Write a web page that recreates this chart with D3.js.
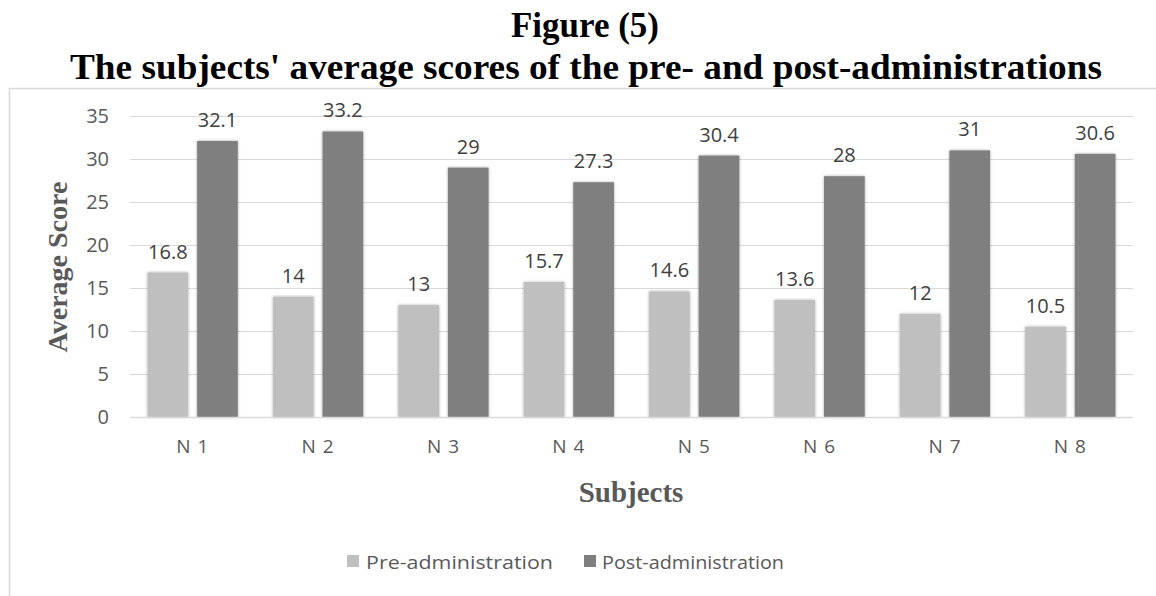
<!DOCTYPE html>
<html><head><meta charset="utf-8">
<script src="https://cdn.jsdelivr.net/npm/d3@7"></script>
<style>body{margin:0;background:#fff}</style>
</head><body>
<script>
const categories = ["N 1","N 2","N 3","N 4","N 5","N 6","N 7","N 8"];
const seriesNames = ["Pre-administration","Post-administration"];
const preValues = [16.8,14,13,15.7,14.6,13.6,12,10.5];
const postValues = [32.1,33.2,29,27.3,30.4,28,31,30.6];
const yTicks = [0,5,10,15,20,25,30,35];
const colors = ["#bfbfbf","#7f7f7f"];

const W=1156,H=596;
const svg=d3.select("body").append("svg").attr("width",W).attr("height",H);
const defs=svg.append("defs");
const f=defs.append("filter").attr("id","sh").attr("x","-20%").attr("y","-5%").attr("width","140%").attr("height","110%");
f.append("feGaussianBlur").attr("in","SourceAlpha").attr("stdDeviation",1.6).attr("result","b");
f.append("feComponentTransfer").attr("in","b").attr("result","o2").append("feFuncA").attr("type","linear").attr("slope",0.35);
const m=f.append("feMerge");m.append("feMergeNode").attr("in","o2");m.append("feMergeNode").attr("in","SourceGraphic");

// titles
svg.append("text").attr("x",585).attr("y",37).attr("text-anchor","middle")
 .attr("font-family","Liberation Serif").attr("font-weight","bold").attr("font-size",35).attr("fill","#000")
 .text("Figure (5)");
svg.append("text").attr("x",586).attr("y",79).attr("text-anchor","middle")
 .attr("font-family","Liberation Serif").attr("font-weight","bold").attr("font-size",36).attr("fill","#000")
 .attr("textLength",1032).attr("lengthAdjust","spacingAndGlyphs")
 .text("The subjects' average scores of the pre- and post-administrations");

// frame
svg.append("rect").attr("x",9.5).attr("y",88.5).attr("width",1160).attr("height",520).attr("fill","none").attr("stroke","#d9d9d9").attr("stroke-width",1.5);

const y=d3.scaleLinear().domain([0,35]).range([417,116]);
const x0=d3.scaleBand().domain(categories).range([130,1133]).paddingInner(0.28).paddingOuter(0.14);
const x1=d3.scaleBand().domain(seriesNames).range([0,x0.bandwidth()]).paddingInner(0.18);

// grid
svg.append("g").selectAll("line").data(yTicks.filter(d=>d>0)).join("line")
 .attr("x1",130).attr("x2",1133).attr("y1",d=>y(d)+0.5).attr("y2",d=>y(d)+0.5).attr("stroke","#d9d9d9").attr("stroke-width",1);

// y axis labels
const yAxis=d3.axisLeft(y).tickValues(yTicks).tickSize(0).tickPadding(21);
const ga=svg.append("g").attr("transform","translate(130,0)").call(yAxis);
ga.select(".domain").remove();
ga.selectAll("text").attr("font-family","Open Sans").attr("font-size",20).attr("fill","#595959");

// bars
const data=categories.map((c,i)=>({c,vals:[preValues[i],postValues[i]]}));
const g=svg.append("g").selectAll("g").data(data).join("g").attr("transform",d=>`translate(${x0(d.c)},0)`);
g.selectAll("rect").data(d=>d.vals.map((v,j)=>({v,s:seriesNames[j],j}))).join("rect")
 .attr("x",d=>x1(d.s)).attr("width",x1.bandwidth()).attr("y",d=>y(d.v)).attr("height",d=>y(0)-y(d.v))
 .attr("fill",d=>colors[d.j]).attr("filter","url(#sh)");
g.selectAll("text").data(d=>d.vals.map((v,j)=>({v,s:seriesNames[j]}))).join("text")
 .attr("x",d=>x1(d.s)+x1.bandwidth()/2).attr("y",d=>y(d.v)-14).attr("text-anchor","middle")
 .attr("font-family","Open Sans").attr("font-size",20).attr("fill","#404040").text(d=>d.v);

// baseline
svg.append("line").attr("x1",130).attr("x2",1133).attr("y1",y(0)+0.5).attr("y2",y(0)+0.5).attr("stroke","#d9d9d9").attr("stroke-width",1.5);

// x axis labels
const xAxis=d3.axisBottom(x0).tickSize(0).tickPadding(23);
const gx=svg.append("g").attr("transform",`translate(0,${y(0)})`).call(xAxis);
gx.select(".domain").remove();
gx.selectAll("text").attr("font-family","Open Sans").attr("font-size",19).attr("fill","#595959").attr("letter-spacing",1);

// axis titles
svg.append("text").attr("x",631).attr("y",502).attr("text-anchor","middle")
 .attr("font-family","Liberation Serif").attr("font-weight","bold").attr("font-size",29).attr("fill","#595959").text("Subjects");
svg.append("text").attr("transform","translate(67,267) rotate(-90)").attr("text-anchor","middle")
 .attr("font-family","Liberation Serif").attr("font-weight","bold").attr("font-size",28).attr("fill","#595959").text("Average Score");

// legend
const leg=[{x:347,tx:366,w:187},{x:584,tx:602,w:182}];
seriesNames.forEach((s,i)=>{
  svg.append("rect").attr("x",leg[i].x).attr("y",555).attr("width",12).attr("height",12).attr("fill",colors[i]);
  svg.append("text").attr("x",leg[i].tx).attr("y",569).attr("font-family","Open Sans").attr("font-size",19).attr("fill","#595959")
   .attr("textLength",leg[i].w).attr("lengthAdjust","spacingAndGlyphs").text(s);
});
</script>
</body></html>
